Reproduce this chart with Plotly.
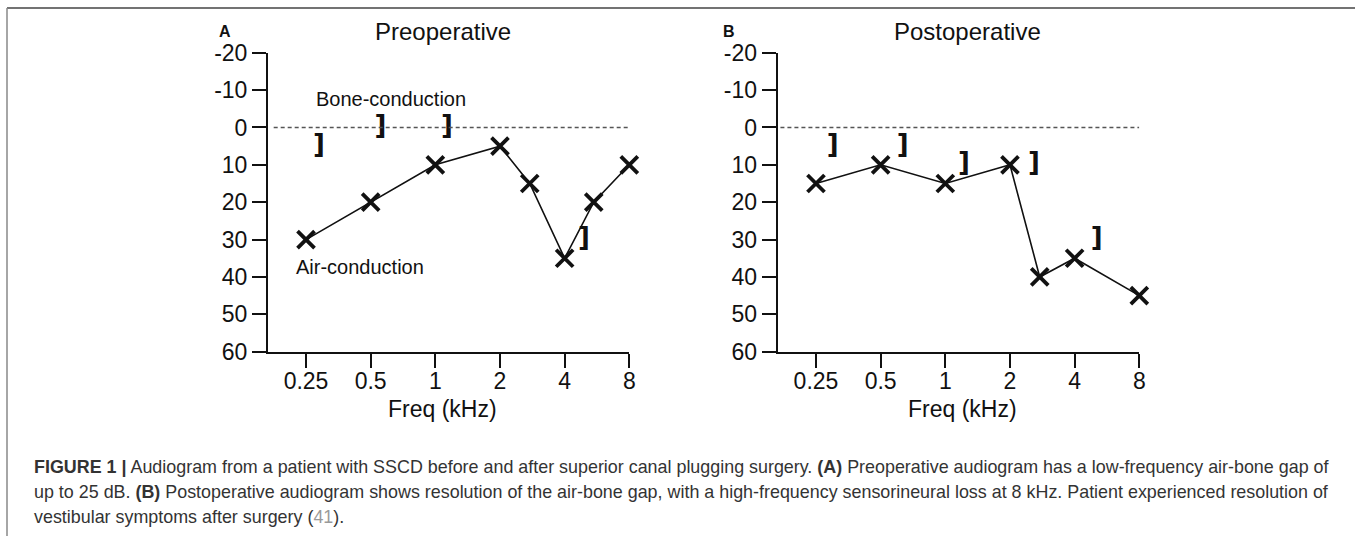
import plotly.graph_objects as go

W, H = 1355, 536

# ---- data (x in octave steps from 0.25 kHz; y in dB HL) ----
tick_pos = [0, 1, 2, 3, 4, 5]
tick_labels = ["0.25", "0.5", "1", "2", "4", "8"]
y_ticks = [-20, -10, 0, 10, 20, 30, 40, 50, 60]
y_tick_labels = ["-20", "-10", "0", "10", "20", "30", "40", "50", "60"]

air_x_pre = [0, 1, 2, 3, 3.46, 4, 4.45, 5]
air_db_pre = [30, 20, 10, 5, 15, 35, 20, 10]
bone_x_pre = [0.2, 1.15, 2.18, 4.3]
bone_db_pre = [5, 0, 0, 30]

air_x_post = [0, 1, 2, 3, 3.46, 4, 5]
air_db_post = [15, 10, 15, 10, 40, 35, 45]
bone_x_post = [0.26, 1.34, 2.29, 3.37, 4.34]
bone_db_post = [5, 5, 10, 10, 30]

FONT = "Liberation Sans, Arial, sans-serif"


def px(x):
    return x / W


def py(y):
    return 1 - y / H


fig = go.Figure()

for xs, ys, bx, bys, xa, ya in [
    (air_x_pre, air_db_pre, bone_x_pre, bone_db_pre, "x", "y"),
    (air_x_post, air_db_post, bone_x_post, bone_db_post, "x2", "y2"),
]:
    fig.add_trace(go.Scatter(
        x=xs, y=ys, mode="lines+markers", xaxis=xa, yaxis=ya, cliponaxis=False,
        line=dict(color="#111", width=1.6),
        marker=dict(symbol="x-thin", size=17, line=dict(color="#111", width=3.8)),
        showlegend=False, hoverinfo="skip"))
    fig.add_trace(go.Scatter(
        x=bx, y=bys, mode="text", xaxis=xa, yaxis=ya, cliponaxis=False,
        text=["<b>]</b>"] * len(bx),
        textposition="middle center",
        textfont=dict(family="DejaVu Sans", size=26, color="#111"),
        showlegend=False, hoverinfo="skip"))

axis_common = dict(
    showline=True, linewidth=2, linecolor="#111", ticks="outside", ticklen=14,
    tickwidth=2, tickcolor="#111", showgrid=False, zeroline=False,
    tickfont=dict(family=FONT, size=23, color="#111"),
)

fig.update_layout(
    autosize=True, margin=dict(l=0, r=0, t=0, b=0, autoexpand=False),
    paper_bgcolor="white", plot_bgcolor="white",
    xaxis=dict(domain=[px(268), px(629.3)], range=[-0.588, 5], tickvals=tick_pos,
               ticktext=tick_labels, anchor="y", ticklabelstandoff=-6, **axis_common),
    yaxis=dict(domain=[py(351.7), py(52.7)], range=[60, -20], tickvals=y_ticks,
               ticktext=y_tick_labels, anchor="x", **axis_common),
    xaxis2=dict(domain=[px(777.7), px(1139.3)], range=[-0.592, 5], tickvals=tick_pos,
                ticktext=tick_labels, anchor="y2", ticklabelstandoff=-6, **axis_common),
    yaxis2=dict(domain=[py(351.7), py(52.7)], range=[60, -20], tickvals=y_ticks,
                ticktext=y_tick_labels, anchor="x2", **axis_common),
)

# dashed 0 dB reference lines
for xr, yr, x0 in [("x", "y", -0.5), ("x2", "y2", -0.55)]:
    fig.add_shape(type="line", xref=xr, yref=yr, x0=x0, x1=5, y0=0, y1=0,
                  line=dict(color="#555", width=1.5, dash="4px,3px"))

# frame lines
fig.add_shape(type="line", xref="paper", yref="paper", x0=px(7), x1=1, y0=py(8), y1=py(8),
              line=dict(color="#444", width=1.5))
fig.add_shape(type="line", xref="paper", yref="paper", x0=px(7), x1=px(7), y0=0, y1=py(8),
              line=dict(color="#888", width=1.5))


def ann(text, x, y, size, color="#111", xanchor="center", bold=False):
    fig.add_annotation(text=f"<b>{text}</b>" if bold else text, x=px(x), y=py(y),
                       xref="paper", yref="paper", showarrow=False, xanchor=xanchor,
                       yanchor="middle", font=dict(family=FONT, size=size, color=color))


ann("A", 225, 31.7, 16, bold=True)
ann("B", 729.3, 31.7, 16, bold=True)
ann("Preoperative", 442.7, 31.7, 24)
ann("Postoperative", 967.3, 31.7, 24)
ann("Bone-conduction", 390.7, 99.3, 20)
ann("Air-conduction", 360.3, 267.3, 20)
ann("Freq (kHz)", 442, 409, 23)
ann("Freq (kHz)", 962, 409, 23)

cap_lines = [
    "<b>FIGURE 1 |</b> Audiogram from a patient with SSCD before and after superior canal plugging surgery. "
    "<b>(A)</b> Preoperative audiogram has a low-frequency air-bone gap of",
    "up to 25 dB. <b>(B)</b> Postoperative audiogram shows resolution of the air-bone gap, with a "
    "high-frequency sensorineural loss at 8 kHz. Patient experienced resolution of",
    "vestibular symptoms after surgery (<span style='color:#9a9a9a'>41</span>).",
]
for i, line in enumerate(cap_lines):
    ann(line, 31.5, 467 + 25 * i, 17.9, color="#333", xanchor="left")

post_js = (
    "document.documentElement.style.cssText='margin:0;padding:0;overflow:hidden;height:100%;';"
    "document.body.style.cssText='margin:0;padding:0;overflow:hidden;height:100%;';"
    "var gd=document.getElementById('{plot_id}');"
    "if(gd.parentElement){gd.parentElement.style.cssText='margin:0;padding:0;width:100vw;height:100vh;';}"
    "gd.style.width='100vw';gd.style.height='100vh';"
    "Plotly.Plots.resize(gd);"
)

fig.write_html(
    "out.html",
    config={"displayModeBar": False, "responsive": True},
    default_width="100vw", default_height="100vh",
    post_script=post_js,
)
